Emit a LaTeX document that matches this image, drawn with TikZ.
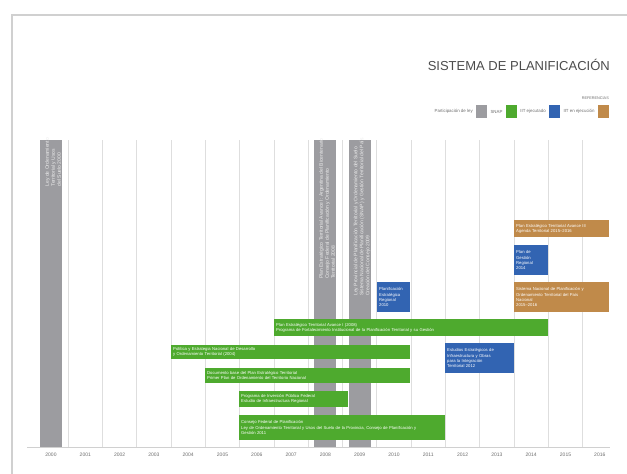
\documentclass[tikz,border=0pt]{standalone}
\usepackage{fontspec}
\setmainfont{Liberation Sans}
\usetikzlibrary{positioning}

\definecolor{barGray}{RGB}{156,156,160}
\definecolor{barGreen}{RGB}{78,170,46}
\definecolor{barBlue}{RGB}{50,100,178}
\definecolor{barBrown}{RGB}{192,138,74}
\definecolor{frameGray}{RGB}{208,208,208}
\definecolor{gridGray}{RGB}{222,222,222}
\definecolor{labelGray}{RGB}{110,110,110}

\tikzset{
  bar/.style={anchor=north west, inner sep=2pt, align=left, text=white,
    font=\fontsize{4.2}{5.3}\selectfont},
  lawbar/.style={fill=barGray, anchor=north west, minimum width=22pt,
    minimum height=307pt, inner sep=0pt},
  lawtext/.style={rotate=90, anchor=north east, align=left, text=white!85!gray,
    font=\fontsize{5}{6}\selectfont, inner sep=1pt},
  legbox/.style={minimum width=11pt, minimum height=13pt, inner sep=0pt},
  legtext/.style={font=\fontsize{4.4}{5}\selectfont, text=labelGray, inner sep=0pt},
  yearlabel/.style={font=\fontsize{5}{6}\selectfont, text=labelGray},
  gridline/.style={gridGray, line width=0.6pt}
}

\begin{document}
\begin{tikzpicture}[x=1pt, y=-1pt]

  \useasboundingbox (0,0) rectangle (627,474);
  \fill[white] (0,0) rectangle (627,474);

  % Frame
  \draw[frameGray, line width=1.6pt] (627,15) -- (12,15) -- (12,474);

  % Title and references
  \node[anchor=east, font=\fontsize{13}{15}\selectfont, text=black!70, inner sep=0pt]
    (title) at (610,65) {SISTEMA DE PLANIFICACIÓN};
  \node[anchor=east, font=\fontsize{3.8}{4.5}\selectfont, text=labelGray, inner sep=0pt]
    (refs) at (609,98) {REFERENCIAS};

  \node[legbox, fill=barBrown] (boxPending) at (603.5,111.5) {};
  \node[legtext, left=3pt of boxPending] (txtPending) {IIT en ejecución};
  \node[legbox, fill=barBlue, left=3pt of txtPending] (boxDone) {};
  \node[legtext, left=3pt of boxDone] (txtDone) {IIT ejecutado};
  \node[legbox, fill=barGreen, left=3pt of txtDone] (boxSnap) {};
  \node[legtext, left=3pt of boxSnap] (txtSnap) {SNAP};
  \node[legbox, fill=barGray, left=3pt of txtSnap] (boxLaw) {};
  \node[legtext, left=3pt of boxLaw] (txtLaw) {Participación de ley};

  % The grid
  \def \yTop {140}
  \def \yAxis {447}
  \def \yearW {34.3}
  \foreach \i in {0,...,15}
    \draw[gridline] (68+\yearW*\i, \yTop) -- (68+\yearW*\i, \yAxis);

  % Gray bars (laws)
  \node[lawbar] (law2000) at (40,\yTop) {};
  \node[lawbar] (law2008) at (314,\yTop) {};
  \node[lawbar] (law2009) at (348.5,\yTop) {};
  \node[lawtext] (lawTxt2000) at (law2000.north west) [xshift=3pt, yshift=-4pt]
    {Ley de Ordenamiento\\ Territorial y Usos\\ del Suelo 2000};
  \node[lawtext] (lawTxt2008) at (law2008.north west) [xshift=3pt, yshift=-4pt]
    {Plan Estratégico Territorial Avance I: Argentina del Bicentenario\\
     Consejo Federal de Planificación y Ordenamiento\\ Territorial 2008};
  \node[lawtext] (lawTxt2009) at (law2009.north west) [xshift=3pt, yshift=-4pt]
    {Ley Provincial de Planificación Territorial y Ordenamiento del Suelo\\
     Sistema Nacional de Planificación (SNAP) y Gestión Territorial del País\\
     Creación del Consejo 2009};

  % Axis and years
  \coordinate (axisStart) at (27,\yAxis);
  \coordinate (axisEnd) at (610,\yAxis);
  \draw[frameGray, line width=1pt] (axisStart) -- (axisEnd);
  \foreach \yr [count=\i from 0] in {2000,...,2016}
    \node[yearlabel] (year\yr) at (51+\yearW*\i, 455) {\yr};

  % Green bars
  \node[bar, fill=barGreen, minimum width=274pt, minimum height=17pt, text width=270pt]
    (green1) at (274,319)
    {Plan Estratégico Territorial Avance I (2008)\\
     Programa de Fortalecimiento Institucional de la Planificación Territorial y su Gestión};
  \node[bar, fill=barGreen, minimum width=239pt, minimum height=14pt, text width=235pt]
    (green2) at (171,345)
    {Política y Estrategia Nacional de Desarrollo\\ y Ordenamiento Territorial (2004)};
  \node[bar, fill=barGreen, minimum width=205pt, minimum height=15pt, text width=201pt]
    (green3) at (205,368)
    {Documento base del Plan Estratégico Territorial\\ Primer Plan de Ordenamiento del Territorio Nacional};
  \node[bar, fill=barGreen, minimum width=109pt, minimum height=16pt, text width=105pt]
    (green4) at (239,391)
    {Programa de Inversión Pública Federal\\ Estudio de Infraestructura Regional};
  \node[bar, fill=barGreen, minimum width=206pt, minimum height=25pt, text width=202pt]
    (green5) at (239,415)
    {Consejo Federal de Planificación\\
     Ley de Ordenamiento Territorial y Usos del Suelo de la Provincia, Consejo de Planificación y\\
     Gestión 2011};

  % Blue bars
  \node[bar, fill=barBlue, minimum width=33pt, minimum height=30pt, text width=29pt]
    (blue1) at (377,282)
    {Planificación\\ Estratégica\\ Regional\\ 2010};
  \node[bar, fill=barBlue, minimum width=69pt, minimum height=30pt, text width=65pt]
    (blue2) at (445,343)
    {Estudios Estratégicos de\\ Infraestructura y Obras\\ para la Integración\\ Territorial 2012};
  \node[bar, fill=barBlue, minimum width=34pt, minimum height=30pt, text width=30pt]
    (blue3) at (514,245)
    {Plan de\\ Gestión\\ Regional\\ 2014};

  % Brown bars
  \node[bar, fill=barBrown, minimum width=95pt, minimum height=17pt, text width=91pt]
    (brown1) at (514,220)
    {Plan Estratégico Territorial Avance III\\ Agenda Territorial 2015--2016};
  \node[bar, fill=barBrown, minimum width=95pt, minimum height=30pt, text width=91pt]
    (brown2) at (514,282)
    {Sistema Nacional de Planificación y\\ Ordenamiento Territorial del País\\ Nacional\\ 2015--2016};

\end{tikzpicture}
\end{document}
